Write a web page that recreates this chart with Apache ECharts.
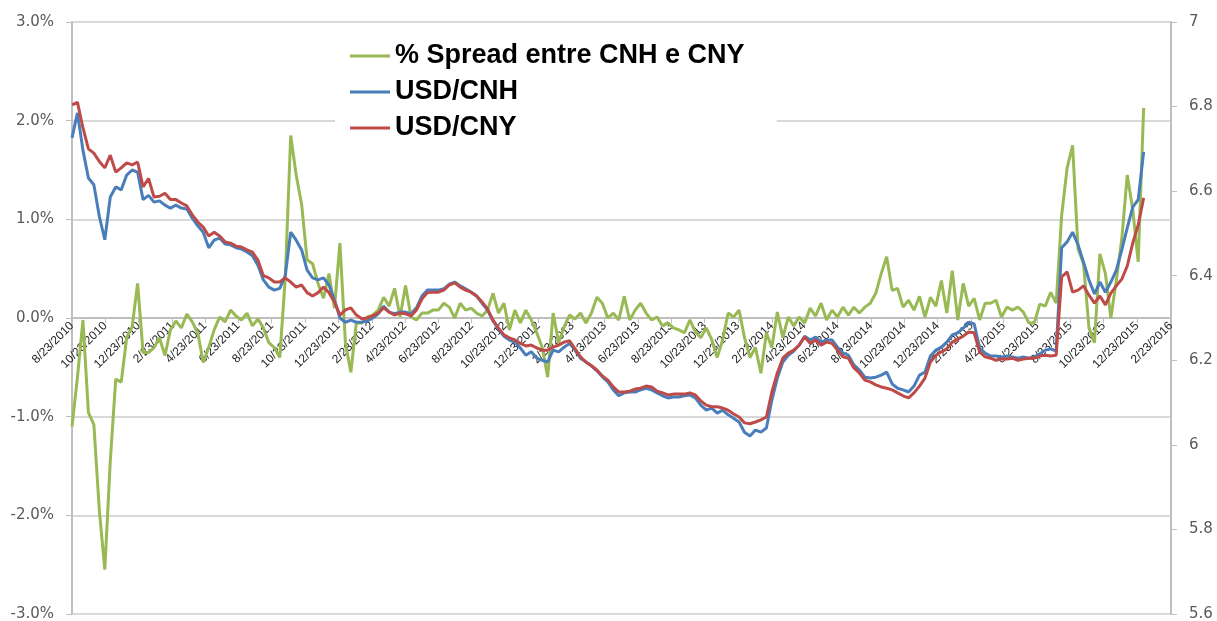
<!DOCTYPE html>
<html lang="pt">
<head>
    <meta charset="UTF-8">
    <title>Spread CNH / CNY</title>
    <style>
        * {
            margin: 0;
            padding: 0;
        }

        body {
            background-color: #fff;
        }

        #chart {
            width: 1217px;
            height: 621px;
        }
    </style>
</head>
<body>
<div id="chart"></div>
<script src="https://cdn.jsdelivr.net/npm/echarts@6.0.0/dist/echarts.min.js"></script>
<script>
    // one sample every 10 days, starting 8/23/2010
    var stepDays = 10;

    var spreadPct = [
        -1.10, -0.60, -0.02, -0.96, -1.08, -1.95, -2.55, -1.45, -0.62, -0.65,
        -0.20, -0.09, 0.35, -0.35, -0.35, -0.30, -0.20, -0.38, -0.12, -0.03,
        -0.10, 0.04, -0.04, -0.15, -0.45, -0.30, -0.12, 0.01, -0.04, 0.08,
        0.02, -0.02, 0.05, -0.08, -0.01, -0.10, -0.25, -0.30, -0.40, 0.40,
        1.85, 1.45, 1.15, 0.59, 0.55, 0.35, 0.20, 0.45, 0.10, 0.76,
        -0.25, -0.55, -0.05, -0.05, 0.01, 0.03, 0.08, 0.21, 0.12, 0.30,
        0.01, 0.33, 0.01, -0.02, 0.05, 0.05, 0.08, 0.08, 0.15, 0.11,
        0.00, 0.15, 0.08, 0.10, 0.05, 0.02, 0.08, 0.25, 0.05, 0.15,
        -0.12, 0.08, -0.05, 0.08, -0.02, -0.15, -0.30, -0.60, 0.05, -0.25,
        -0.09, 0.03, -0.01, 0.05, -0.05, 0.05, 0.21, 0.15, 0.00, 0.05,
        -0.02, 0.22, -0.02, 0.08, 0.15, 0.05, -0.02, 0.01, -0.08, -0.05,
        -0.10, -0.12, -0.15, -0.02, -0.14, -0.20, -0.10, -0.22, -0.40, -0.22,
        0.05, 0.01, 0.08, -0.20, -0.40, -0.30, -0.56, -0.15, -0.30, 0.06,
        -0.20, 0.01, -0.08, 0.01, -0.05, 0.10, 0.02, 0.15, -0.02, 0.08,
        0.01, 0.11, 0.03, 0.11, 0.05, 0.11, 0.15, 0.25, 0.45, 0.62,
        0.28, 0.30, 0.11, 0.18, 0.08, 0.22, 0.01, 0.21, 0.12, 0.38,
        0.05, 0.48, -0.02, 0.35, 0.12, 0.20, -0.02, 0.15, 0.15, 0.18,
        0.01, 0.11, 0.08, 0.11, 0.06, -0.05, -0.05, 0.14, 0.12, 0.26,
        0.15, 1.04, 1.52, 1.75, 0.70, 0.55, -0.10, -0.25, 0.65, 0.45,
        0.00, 0.38, 0.80, 1.45, 1.10, 0.57, 2.13
    ];

    var usdCnh = [
        6.726, 6.785, 6.697, 6.631, 6.615, 6.540, 6.485, 6.586, 6.610, 6.603,
        6.638, 6.650, 6.645, 6.580, 6.590, 6.574, 6.577, 6.567, 6.560, 6.567,
        6.560, 6.558, 6.536, 6.518, 6.503, 6.466, 6.484, 6.489, 6.475, 6.473,
        6.466, 6.463, 6.456, 6.447, 6.425, 6.390, 6.373, 6.366, 6.370, 6.400,
        6.503, 6.484, 6.461, 6.413, 6.395, 6.390, 6.395, 6.378, 6.343, 6.300,
        6.290, 6.295, 6.290, 6.290, 6.293, 6.300, 6.310, 6.328, 6.314, 6.310,
        6.314, 6.314, 6.310, 6.324, 6.352, 6.366, 6.366, 6.366, 6.369, 6.380,
        6.385, 6.376, 6.369, 6.361, 6.352, 6.335, 6.319, 6.293, 6.274, 6.257,
        6.248, 6.243, 6.229, 6.212, 6.220, 6.205, 6.200, 6.196, 6.224, 6.220,
        6.231, 6.240, 6.224, 6.205, 6.196, 6.187, 6.175, 6.161, 6.149, 6.130,
        6.116, 6.123, 6.125, 6.125, 6.130, 6.134, 6.130, 6.123, 6.116, 6.111,
        6.113, 6.113, 6.116, 6.118, 6.111, 6.094, 6.082, 6.087, 6.075, 6.082,
        6.071, 6.063, 6.054, 6.030, 6.021, 6.035, 6.030, 6.040, 6.106, 6.158,
        6.196, 6.212, 6.222, 6.236, 6.257, 6.248, 6.255, 6.243, 6.248, 6.248,
        6.231, 6.217, 6.212, 6.189, 6.177, 6.160, 6.158, 6.160, 6.165, 6.172,
        6.144, 6.134, 6.130, 6.125, 6.139, 6.165, 6.172, 6.210, 6.224, 6.231,
        6.243, 6.260, 6.265, 6.276, 6.290, 6.286, 6.229, 6.217, 6.210, 6.210,
        6.208, 6.210, 6.208, 6.205, 6.208, 6.205, 6.208, 6.215, 6.224, 6.227,
        6.222, 6.466, 6.480, 6.503, 6.473, 6.432, 6.390, 6.357, 6.385, 6.361,
        6.385, 6.413, 6.461, 6.513, 6.562, 6.580, 6.693
    ];

    var usdCny = [
        6.804, 6.810, 6.750, 6.700, 6.690, 6.670, 6.655, 6.685, 6.645, 6.655,
        6.667, 6.662, 6.669, 6.610, 6.630, 6.586, 6.588, 6.595, 6.580, 6.580,
        6.572, 6.565, 6.544, 6.527, 6.515, 6.494, 6.503, 6.494, 6.480, 6.477,
        6.470, 6.468, 6.461, 6.456, 6.437, 6.400, 6.395, 6.385, 6.385, 6.395,
        6.385, 6.373, 6.378, 6.360, 6.352, 6.360, 6.373, 6.360, 6.338, 6.307,
        6.319, 6.324, 6.307, 6.298, 6.300, 6.305, 6.312, 6.324, 6.314, 6.307,
        6.312, 6.310, 6.305, 6.319, 6.345, 6.360, 6.361, 6.361, 6.366, 6.378,
        6.383, 6.373, 6.366, 6.361, 6.352, 6.338, 6.321, 6.295, 6.276, 6.260,
        6.253, 6.248, 6.240, 6.234, 6.236, 6.229, 6.224, 6.224, 6.231, 6.236,
        6.243, 6.246, 6.227, 6.208, 6.196, 6.187, 6.177, 6.163, 6.153, 6.137,
        6.125, 6.125, 6.127, 6.132, 6.134, 6.139, 6.137, 6.127, 6.123, 6.118,
        6.120, 6.120, 6.120, 6.123, 6.118, 6.104, 6.094, 6.090, 6.090, 6.087,
        6.082, 6.073, 6.066, 6.052, 6.050, 6.054, 6.059, 6.066, 6.125, 6.170,
        6.205, 6.217, 6.224, 6.236, 6.255, 6.240, 6.248, 6.236, 6.243, 6.240,
        6.224, 6.208, 6.205, 6.182, 6.170, 6.153, 6.149, 6.142, 6.137, 6.134,
        6.130, 6.123, 6.116, 6.111, 6.123, 6.139, 6.158, 6.196, 6.212, 6.220,
        6.227, 6.243, 6.250, 6.257, 6.267, 6.265, 6.220, 6.208, 6.205, 6.200,
        6.203, 6.203, 6.205, 6.200, 6.203, 6.205, 6.205, 6.210, 6.212, 6.210,
        6.212, 6.397, 6.409, 6.361, 6.366, 6.376, 6.354, 6.335, 6.352, 6.331,
        6.359, 6.376, 6.392, 6.423, 6.477, 6.520, 6.584
    ];

    var seriesNames = ['% Spread entre CNH e CNY', 'USD/CNH', 'USD/CNY'];
    var seriesColors = ['#98B954', '#4A7EBB', '#BE4B48'];

    // x axis: one category per day, 8/23/2010 .. 2/23/2016
    var days = [];
    var t = Date.UTC(2010, 7, 23);
    var tEnd = Date.UTC(2016, 1, 23);
    while (t <= tEnd) {
        var d = new Date(t);
        days.push((d.getUTCMonth() + 1) + '/' + d.getUTCDate() + '/' + d.getUTCFullYear());
        t += 86400000;
    }

    // labels and ticks on the 23rd of every even month
    function isLabelDay(index, value) {
        var p = value.split('/');
        return p[1] === '23' && (+p[0]) % 2 === 0;
    }

    function toPoints(values) {
        return values.map(function (v, i) {
            return [i * stepDays, v];
        });
    }

    function lineSeries(idx, values, axisIndex) {
        return {
            name: seriesNames[idx],
            type: 'line',
            yAxisIndex: axisIndex,
            data: toPoints(values),
            showSymbol: false,
            symbol: 'none',
            lineStyle: {width: 3, color: seriesColors[idx]},
            itemStyle: {color: seriesColors[idx]},
            z: 2 + idx
        };
    }

    var gridTop = 22;
    var gridBottom = 7;
    var plotHeight = 621 - gridTop - gridBottom;

    var chart = echarts.init(document.getElementById('chart'));
    chart.setOption({
        animation: false,
        backgroundColor: '#fff',
        legend: {
            orient: 'vertical',
            left: 335,
            top: 30,
            padding: [11, 32, 8, 15],
            backgroundColor: '#fff',
            icon: 'rect',
            itemWidth: 40,
            itemHeight: 3,
            itemGap: 6,
            textStyle: {
                fontFamily: 'Liberation Sans',
                fontWeight: 'bold',
                fontSize: 27,
                lineHeight: 30,
                color: '#000'
            },
            data: seriesNames
        },
        grid: {
            left: 72,
            right: 46,
            top: gridTop,
            bottom: gridBottom,
            containLabel: false,
            outerBoundsMode: 'none'
        },
        xAxis: {
            type: 'category',
            data: days,
            boundaryGap: false,
            // the left axis runs -3%..3%, so its zero is half way up the plot
            offset: -plotHeight / 2,
            axisLine: {onZero: false, lineStyle: {color: '#bfbfbf', width: 2}},
            axisTick: {interval: isLabelDay, length: 5, lineStyle: {color: '#bfbfbf'}},
            axisLabel: {
                interval: isLabelDay,
                rotate: 45,
                margin: 6,
                fontFamily: 'Liberation Sans',
                fontSize: 12,
                color: '#262626'
            },
            splitLine: {show: false}
        },
        yAxis: [
            {
                type: 'value',
                min: -3,
                max: 3,
                interval: 1,
                axisLine: {show: true, lineStyle: {color: '#bfbfbf', width: 2}},
                axisTick: {show: true, length: 6, lineStyle: {color: '#bfbfbf'}},
                axisLabel: {
                    margin: 18,
                    fontFamily: 'DejaVu Sans',
                    fontSize: 15,
                    color: '#595959',
                    formatter: function (v) {
                        return v.toFixed(1) + '%';
                    }
                },
                splitLine: {lineStyle: {color: '#d9d9d9', width: 2}}
            },
            {
                type: 'value',
                min: 5.6,
                max: 7,
                interval: 0.2,
                axisLine: {show: true, lineStyle: {color: '#bfbfbf', width: 2}},
                axisTick: {show: true, length: 6, lineStyle: {color: '#bfbfbf'}},
                axisLabel: {
                    margin: 18,
                    fontFamily: 'DejaVu Sans',
                    fontSize: 15,
                    color: '#595959'
                },
                splitLine: {show: false}
            }
        ],
        series: [
            lineSeries(0, spreadPct, 0),
            lineSeries(1, usdCnh, 1),
            lineSeries(2, usdCny, 1)
        ]
    });
</script>
</body>
</html>
